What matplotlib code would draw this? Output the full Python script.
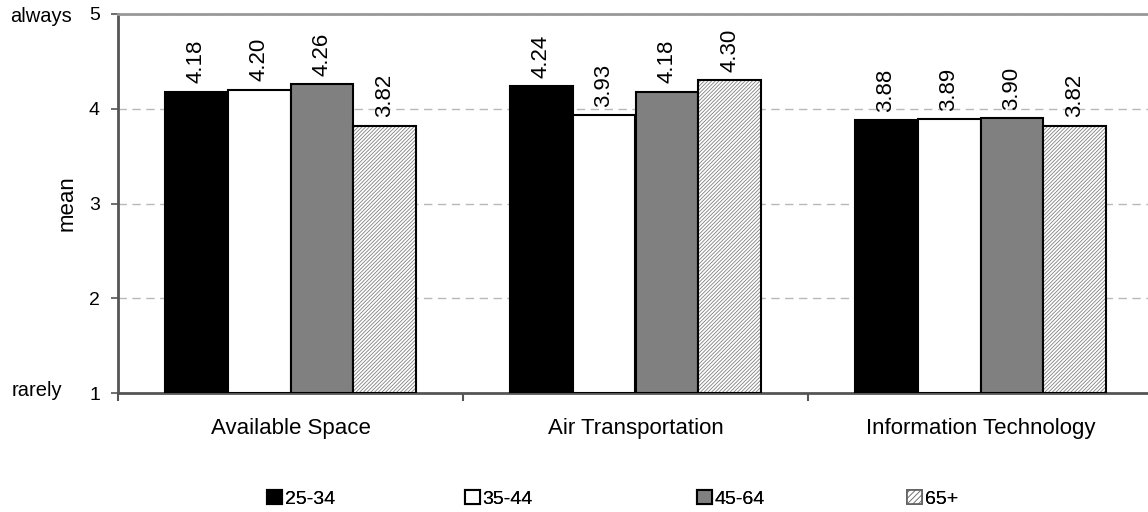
import matplotlib
matplotlib.use("Agg")
import matplotlib.pyplot as plt
import numpy as np

plt.rcParams['font.family'] = ['Liberation Sans', 'DejaVu Sans']
plt.rcParams['hatch.linewidth'] = 0.6

categories = ["Available Space", "Air Transportation", "Information Technology"]
groups = ["25-34", "35-44", "45-64", "65+"]
values = {
    "25-34": [4.18, 4.24, 3.88],
    "35-44": [4.20, 3.93, 3.89],
    "45-64": [4.26, 4.18, 3.90],
    "65+":   [3.82, 4.30, 3.82],
}
labels = {
    "25-34": ["4.18", "4.24", "3.88"],
    "35-44": ["4.20", "3.93", "3.89"],
    "45-64": ["4.26", "4.18", "3.90"],
    "65+":   ["3.82", "4.30", "3.82"],
}
yticks = [1, 2, 3, 4, 5]

W, H = 1148, 512
fig = plt.figure(figsize=(W / 100, H / 100), dpi=100)
x0, x1 = 118, 1153
y0, y1 = 14, 393
ax = fig.add_axes([x0 / W, 1 - y1 / H, (x1 - x0) / W, (y1 - y0) / H])

x = np.arange(len(categories))
bw = 0.1826
face = {"25-34": "black", "35-44": "white", "45-64": "#808080", "65+": "white"}
HATCH = "/////////"
handles = []
for i, g in enumerate(groups):
    pos = x + (i - 1.5) * bw
    bottoms = [1] * len(categories)
    heights = [v - 1 for v in values[g]]
    if g == "65+":
        ax.bar(pos, heights, bw, bottom=bottoms, color="white", edgecolor="#808080",
               hatch=HATCH, linewidth=0, zorder=3)
        ax.bar(pos, heights, bw, bottom=bottoms, facecolor="none", edgecolor="black",
               linewidth=1.5, zorder=4)
        hh = plt.Rectangle((0, 0), 1, 1, facecolor="white", edgecolor="#606060",
                           hatch="//////", linewidth=1.2)
    else:
        ax.bar(pos, heights, bw, bottom=bottoms, color=face[g], edgecolor="black",
               linewidth=1.5, zorder=3)
        hh = plt.Rectangle((0, 0), 1, 1, facecolor=face[g], edgecolor="black", linewidth=1.5)
    handles.append(hh)
    for p, v, lab in zip(pos, values[g], labels[g]):
        ax.annotate(lab, (p, v), xytext=(0, 6), textcoords="offset points",
                    rotation=90, ha="center", va="bottom", fontsize=16, zorder=5)

ax.set_xlim(-0.5, len(categories) - 0.5)
ax.set_ylim(1, 5)
ax.set_yticks(yticks)
ax.set_yticklabels([str(t) for t in yticks], fontsize=14)
ax.set_xticks(x)
ax.set_xticklabels(categories, fontsize=16)
ax.tick_params(axis="x", length=0, pad=18)
ax.set_xticks(np.arange(len(categories) + 1) - 0.5, minor=True)
ax.tick_params(axis="x", which="minor", length=6, width=1.5, color="#555555", direction="out")
ax.tick_params(axis="y", length=5, width=1.2, color="#555555", direction="out", pad=8)
ax.yaxis.grid(True, linestyle=(0, (6, 4)), color="#b8b8b8", linewidth=1, zorder=0)
ax.set_axisbelow(True)
ax.set_ylabel("mean", fontsize=16, labelpad=8)

ax.spines["right"].set_visible(False)
ax.spines["left"].set_color("#555555")
ax.spines["left"].set_linewidth(2)
ax.spines["bottom"].set_color("#555555")
ax.spines["bottom"].set_linewidth(2)
ax.spines["top"].set_color("#999999")
ax.spines["top"].set_linewidth(2)

fig.text(10 / W, 1 - 17 / H, "always", fontsize=14.5, ha="left", va="center")
fig.text(12 / W, 1 - 390 / H, "rarely", fontsize=14.5, ha="left", va="center")

legend_x = [275, 473, 705, 915]
for hnd, g, lx in zip(handles, groups, legend_x):
    lg = fig.legend([hnd], [g], loc="center left", bbox_to_anchor=((lx - 8) / W, 1 - 499 / H),
                    frameon=False, fontsize=14, handlelength=0.75, handleheight=0.75,
                    handletextpad=0.15, borderpad=0, borderaxespad=0)
    fig.add_artist(lg)

fig.savefig("out.png", dpi=100)
